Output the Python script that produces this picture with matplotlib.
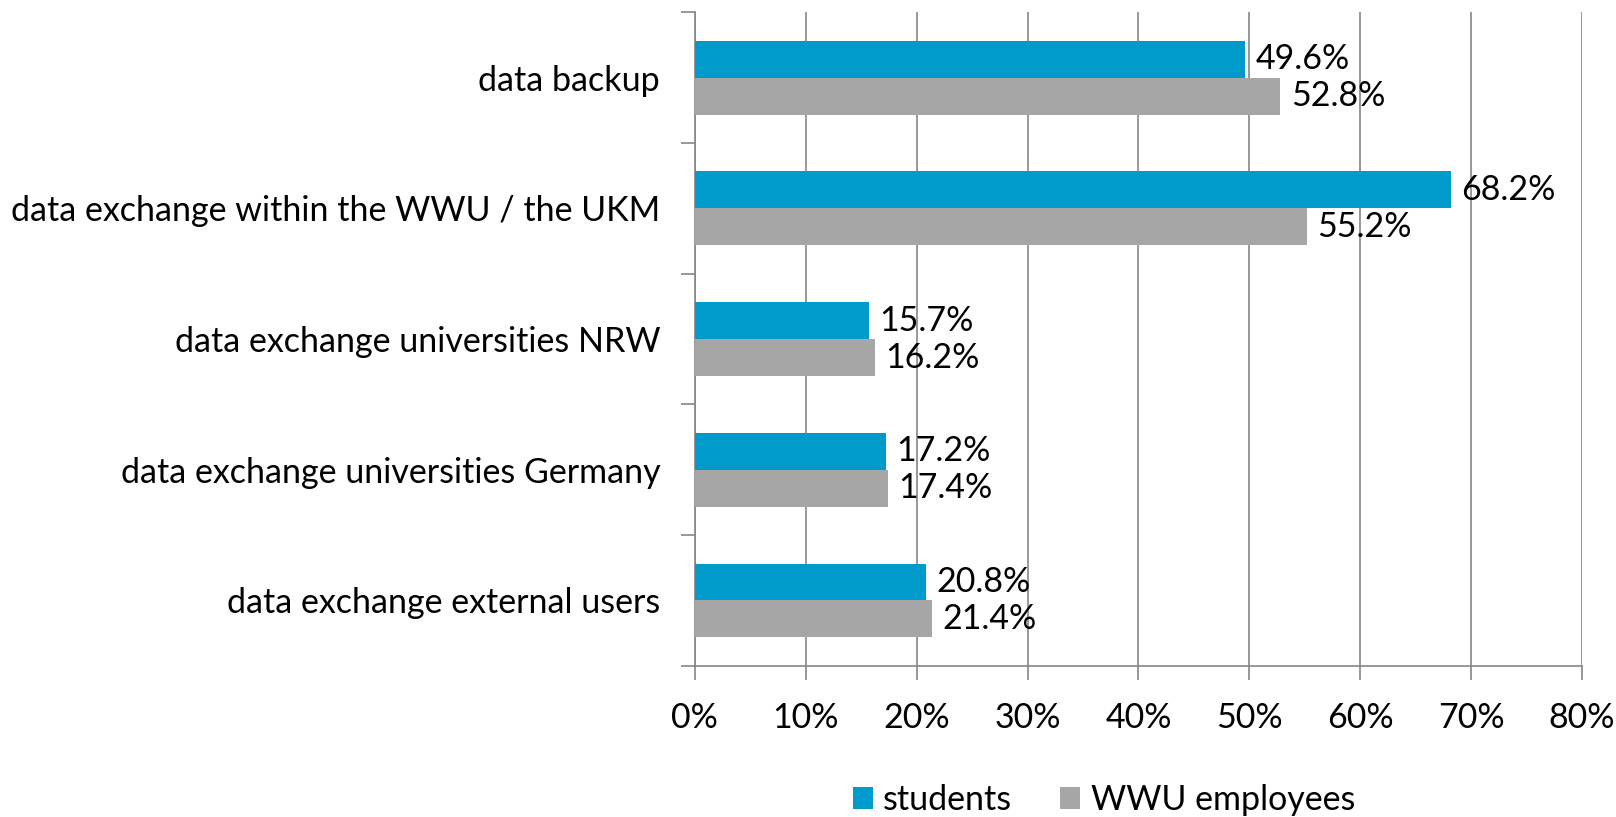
import matplotlib
matplotlib.use('Agg')
import matplotlib.pyplot as plt
import numpy as np

# survey data (share of respondents)
categories = [
    'data backup',
    'data exchange within the WWU / the UKM',
    'data exchange universities NRW',
    'data exchange universities Germany',
    'data exchange external users',
]
students = [49.6, 68.2, 15.7, 17.2, 20.8]
employees = [52.8, 55.2, 16.2, 17.4, 21.4]
series_names = ['students', 'WWU employees']
xticks = [0, 10, 20, 30, 40, 50, 60, 70, 80]

plt.rcParams['font.family'] = ['Lato', 'DejaVu Sans']

fig = plt.figure(figsize=(16.16, 8.17), dpi=100)
ax = fig.add_axes([0.430, 0.185, 0.549, 0.800])

# first category on top
pos = np.arange(len(categories))[::-1]
h = 0.283
b1 = ax.barh(pos + h / 2, students, height=h, color='#009BCB', label=series_names[0], zorder=3)
b2 = ax.barh(pos - h / 2, employees, height=h, color='#A6A6A6', label=series_names[1], zorder=3)

fs = 24.5
ax.bar_label(b1, labels=[f'{v:.1f}%' for v in students], padding=7.5, fontsize=fs)
ax.bar_label(b2, labels=[f'{v:.1f}%' for v in employees], padding=7.5, fontsize=fs)

ax.set_xlim(0, 80)
ax.set_ylim(-0.5, len(categories) - 0.5)
ax.set_xticks(xticks)
ax.set_xticklabels([f'{t}%' for t in xticks], fontsize=fs)
ax.xaxis.grid(True, color='#868686', linewidth=1.2, zorder=0)

ax.set_yticks(pos)
ax.set_yticklabels(categories, fontsize=fs)
ax.set_yticks(np.arange(len(categories) + 1) - 0.5, minor=True)
ax.tick_params(axis='y', which='major', length=0, pad=25)
ax.tick_params(axis='y', which='minor', length=10, color='#868686', width=1.2)
ax.tick_params(axis='x', length=10, color='#868686', width=1.2, pad=16)

for s in ['top', 'right']:
    ax.spines[s].set_visible(False)
for s in ['left', 'bottom']:
    ax.spines[s].set_color('#868686')
    ax.spines[s].set_linewidth(1.2)

fig.legend(handles=[b1, b2], loc='center', bbox_to_anchor=(0.683, 0.021), ncol=2,
           frameon=False, fontsize=fs, handlelength=0.6, handleheight=0.6,
           handletextpad=0.3, columnspacing=1.4)

fig.savefig('out.png', dpi=100)
